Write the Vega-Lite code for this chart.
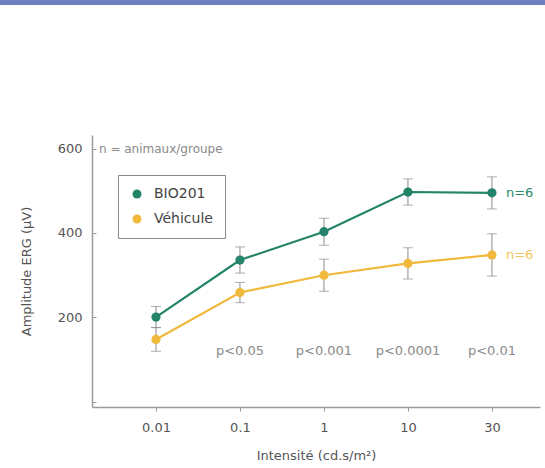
{
  "$schema": "https://vega.github.io/schema/vega-lite/v6.json",
  "padding": 0,
  "background": "white",
  "align": "none",
  "spacing": 130,
  "config": {
    "view": {"stroke": null},
    "font": "DejaVu Sans"
  },
  "datasets": {
    "erg": [
      {"intensity": "0.01", "group": "BIO201", "mean": 201, "lo": 176, "hi": 226},
      {"intensity": "0.1", "group": "BIO201", "mean": 336, "lo": 305, "hi": 367},
      {"intensity": "1", "group": "BIO201", "mean": 403, "lo": 371, "hi": 435},
      {"intensity": "10", "group": "BIO201", "mean": 497, "lo": 466, "hi": 528},
      {"intensity": "30", "group": "BIO201", "mean": 495, "lo": 457, "hi": 533},
      {"intensity": "0.01", "group": "Véhicule", "mean": 148, "lo": 120, "hi": 176},
      {"intensity": "0.1", "group": "Véhicule", "mean": 259, "lo": 235, "hi": 283},
      {"intensity": "1", "group": "Véhicule", "mean": 300, "lo": 262, "hi": 338},
      {"intensity": "10", "group": "Véhicule", "mean": 328, "lo": 291, "hi": 365},
      {"intensity": "30", "group": "Véhicule", "mean": 348, "lo": 298, "hi": 398}
    ],
    "nlabels": [
      {"intensity": "30", "group": "BIO201", "mean": 495, "label": "n=6"},
      {"intensity": "30", "group": "Véhicule", "mean": 348, "label": "n=6"}
    ],
    "pvalues": [
      {"intensity": "0.1", "mean": 120, "label": "p<0.05"},
      {"intensity": "1", "mean": 120, "label": "p<0.001"},
      {"intensity": "10", "mean": 120, "label": "p<0.0001"},
      {"intensity": "30", "mean": 120, "label": "p<0.01"}
    ],
    "note": [
      {"intensity": "0.01", "mean": 600, "label": "n = animaux/groupe"}
    ],
    "empty": []
  },
  "vconcat": [
    {
      "width": 545,
      "height": 5,
      "view": {"fill": "#6d7fbf", "stroke": null},
      "data": {"name": "empty"},
      "mark": "point",
      "encoding": {}
    },
    {
      "spacing": 19,
      "hconcat": [
        {
          "width": 1,
          "height": 272,
          "data": {"name": "empty"},
          "mark": "point",
          "encoding": {}
        },
        {
          "width": 448,
          "height": 272,
          "encoding": {
            "x": {
              "field": "intensity",
              "type": "ordinal",
              "sort": ["0.01", "0.1", "1", "10", "30"],
              "scale": {"type": "point", "domain": ["0.01", "0.1", "1", "10", "30"], "padding": 0.667, "align": 0.571},
              "axis": {
                "title": "Intensité (cd.s/m²)",
                "labelAngle": 0,
                "domainColor": "#9a9a9a",
                "domainWidth": 1.5,
                "tickColor": "#9a9a9a",
                "tickSize": 4,
                "labelPadding": 10,
                "labelFontSize": 13,
                "labelColor": "#555555",
                "titleFontSize": 13,
                "titleFontWeight": "normal",
                "titleColor": "#555555",
                "titlePadding": 15,
                "grid": false
              }
            },
            "y": {
              "field": "mean",
              "type": "quantitative",
              "scale": {"domain": [-12, 632], "nice": false, "zero": false},
              "axis": {
                "title": "Amplitude ERG (µV)",
                "values": [0, 200, 400, 600],
                "labelExpr": "datum.value == 0 ? '' : datum.label",
                "domainColor": "#9a9a9a",
                "domainWidth": 1.5,
                "tickColor": "#9a9a9a",
                "tickSize": -4,
                "labelPadding": 14,
                "labelFontSize": 13,
                "labelColor": "#555555",
                "titleFontSize": 13,
                "titleFontWeight": "normal",
                "titleColor": "#555555",
                "titlePadding": 24,
                "grid": false
              }
            }
          },
          "layer": [
            {
              "data": {"name": "erg"},
              "mark": {"type": "errorbar", "ticks": {"size": 10}, "color": "#8c8c8c", "thickness": 1},
              "encoding": {
                "y": {"field": "lo", "type": "quantitative"},
                "y2": {"field": "hi"}
              }
            },
            {
              "data": {"name": "erg"},
              "mark": {"type": "line", "strokeWidth": 2.2},
              "encoding": {
                "stroke": {
                  "field": "group",
                  "type": "nominal",
                  "scale": {"domain": ["Véhicule", "BIO201"], "range": ["#f0b93c", "#23846a"]},
                  "legend": null
                }
              }
            },
            {
              "data": {"name": "erg"},
              "mark": {"type": "point", "filled": true, "size": 85, "opacity": 1},
              "encoding": {
                "color": {
                  "field": "group",
                  "type": "nominal",
                  "scale": {"domain": ["BIO201", "Véhicule"], "range": ["#23846a", "#f0b93c"]},
                  "legend": {
                    "title": null,
                    "orient": "none",
                    "legendX": 118,
                    "legendY": 175,
                    "strokeColor": "#8a8a8a",
                    "padding": 12,
                    "labelFontSize": 14,
                    "labelColor": "#444444",
                    "rowPadding": 11,
                    "symbolSize": 80,
                    "symbolType": "circle",
                    "symbolOpacity": 1,
                    "labelOffset": 10
                  }
                }
              }
            },
            {
              "data": {"name": "nlabels"},
              "mark": {"type": "text", "align": "left", "baseline": "middle", "dx": 14, "fontSize": 13},
              "encoding": {
                "text": {"field": "label"},
                "fill": {
                  "field": "group",
                  "type": "nominal",
                  "scale": {"domain": ["Véhicule", "BIO201", "-"], "range": ["#f3c45a", "#2a8a6b", "#ffffff"]},
                  "legend": null
                }
              }
            },
            {
              "data": {"name": "pvalues"},
              "mark": {"type": "text", "align": "center", "baseline": "middle", "fontSize": 13, "color": "#8a8a8a"},
              "encoding": {"text": {"field": "label"}}
            },
            {
              "data": {"name": "note"},
              "mark": {"type": "text", "align": "left", "baseline": "middle", "dx": -57, "fontSize": 12, "color": "#8a8a8a"},
              "encoding": {"text": {"field": "label"}}
            },
            {
              "data": {"values": [{"arrow": "x"}]},
              "mark": {"type": "point", "shape": "triangle-right", "x": "width", "y": "height", "filled": true, "size": 40, "color": "#9a9a9a", "opacity": 1},
              "encoding": {}
            }
          ]
        }
      ]
    }
  ]
}
